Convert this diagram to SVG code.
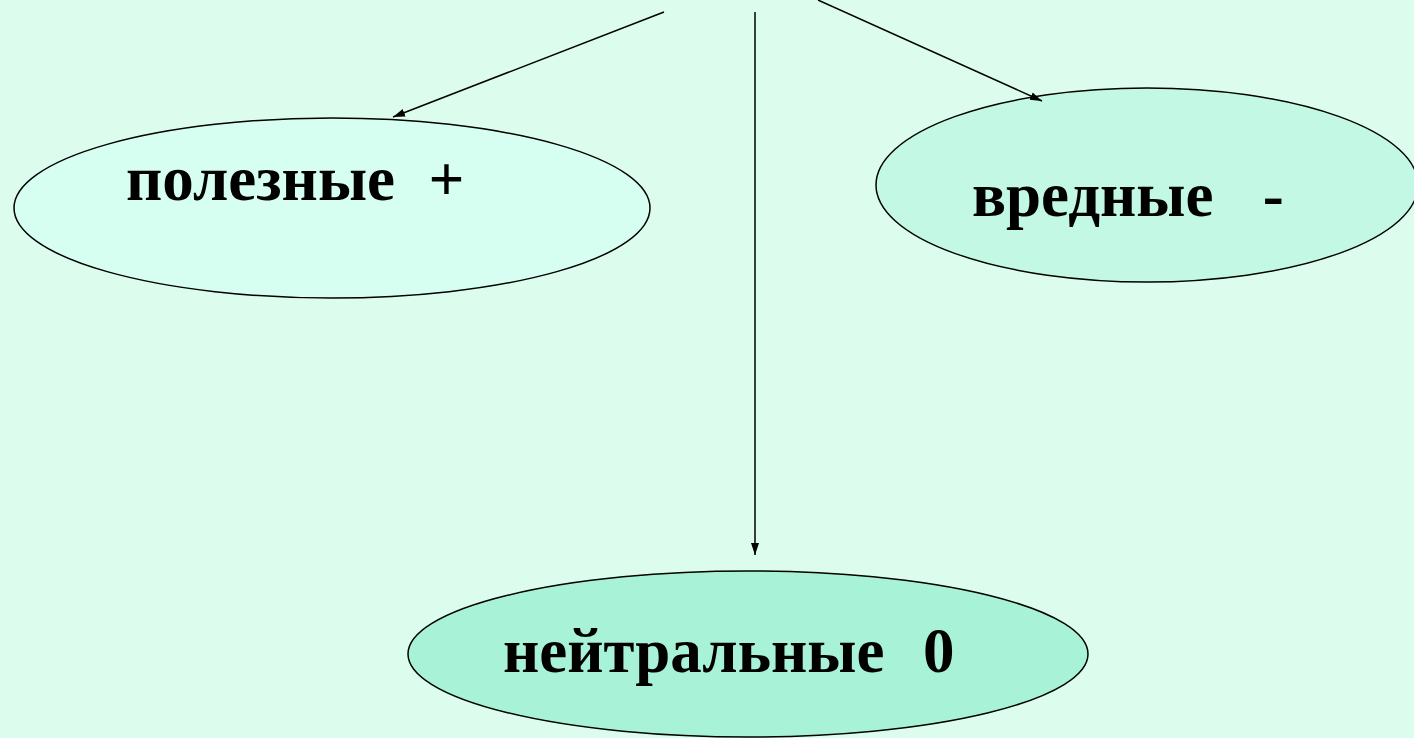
<svg xmlns="http://www.w3.org/2000/svg" width="1414" height="738" viewBox="0 0 1414 738">
<style>
.node{stroke:#000;stroke-width:1.5}
.lbl{font-family:"Liberation Serif","Times New Roman",serif;font-weight:bold;font-size:63px;fill:#000;white-space:pre}
.conn{stroke:#000;stroke-width:1.5;fill:none}
</style>
<defs>
<marker id="ah" viewBox="0 0 12 10" refX="12" refY="5" markerWidth="12" markerHeight="10" markerUnits="userSpaceOnUse" orient="auto">
<path d="M0,1 L12,5 L0,9 z" fill="#000"/>
</marker>
</defs>
<rect width="1414" height="738" fill="#DCFDEE"/>
<g id="node-useful">
<ellipse class="node" cx="332" cy="208" rx="318" ry="90" fill="#D6FEF1"/>
<text class="lbl" x="126" y="200" xml:space="preserve">полезные  <tspan dx="2">+</tspan></text>
</g>
<g id="node-harmful">
<ellipse class="node" cx="1147" cy="185" rx="271" ry="97" fill="#C3F8E4"/>
<text class="lbl" x="972" y="216" xml:space="preserve">вредные   <tspan dx="2">-</tspan></text>
</g>
<g id="node-neutral">
<ellipse class="node" cx="748" cy="654" rx="340" ry="83" fill="#A8F2D8"/>
<text class="lbl" x="503" y="672" xml:space="preserve">нейтральные  <tspan dx="7">0</tspan></text>
</g>
<g id="connectors">
<line class="conn" x1="664" y1="12" x2="393" y2="117" marker-end="url(#ah)"/>
<line class="conn" x1="755" y1="12" x2="755" y2="555" marker-end="url(#ah)"/>
<line class="conn" x1="818" y1="0" x2="1042" y2="101" marker-end="url(#ah)"/>
</g>
</svg>
